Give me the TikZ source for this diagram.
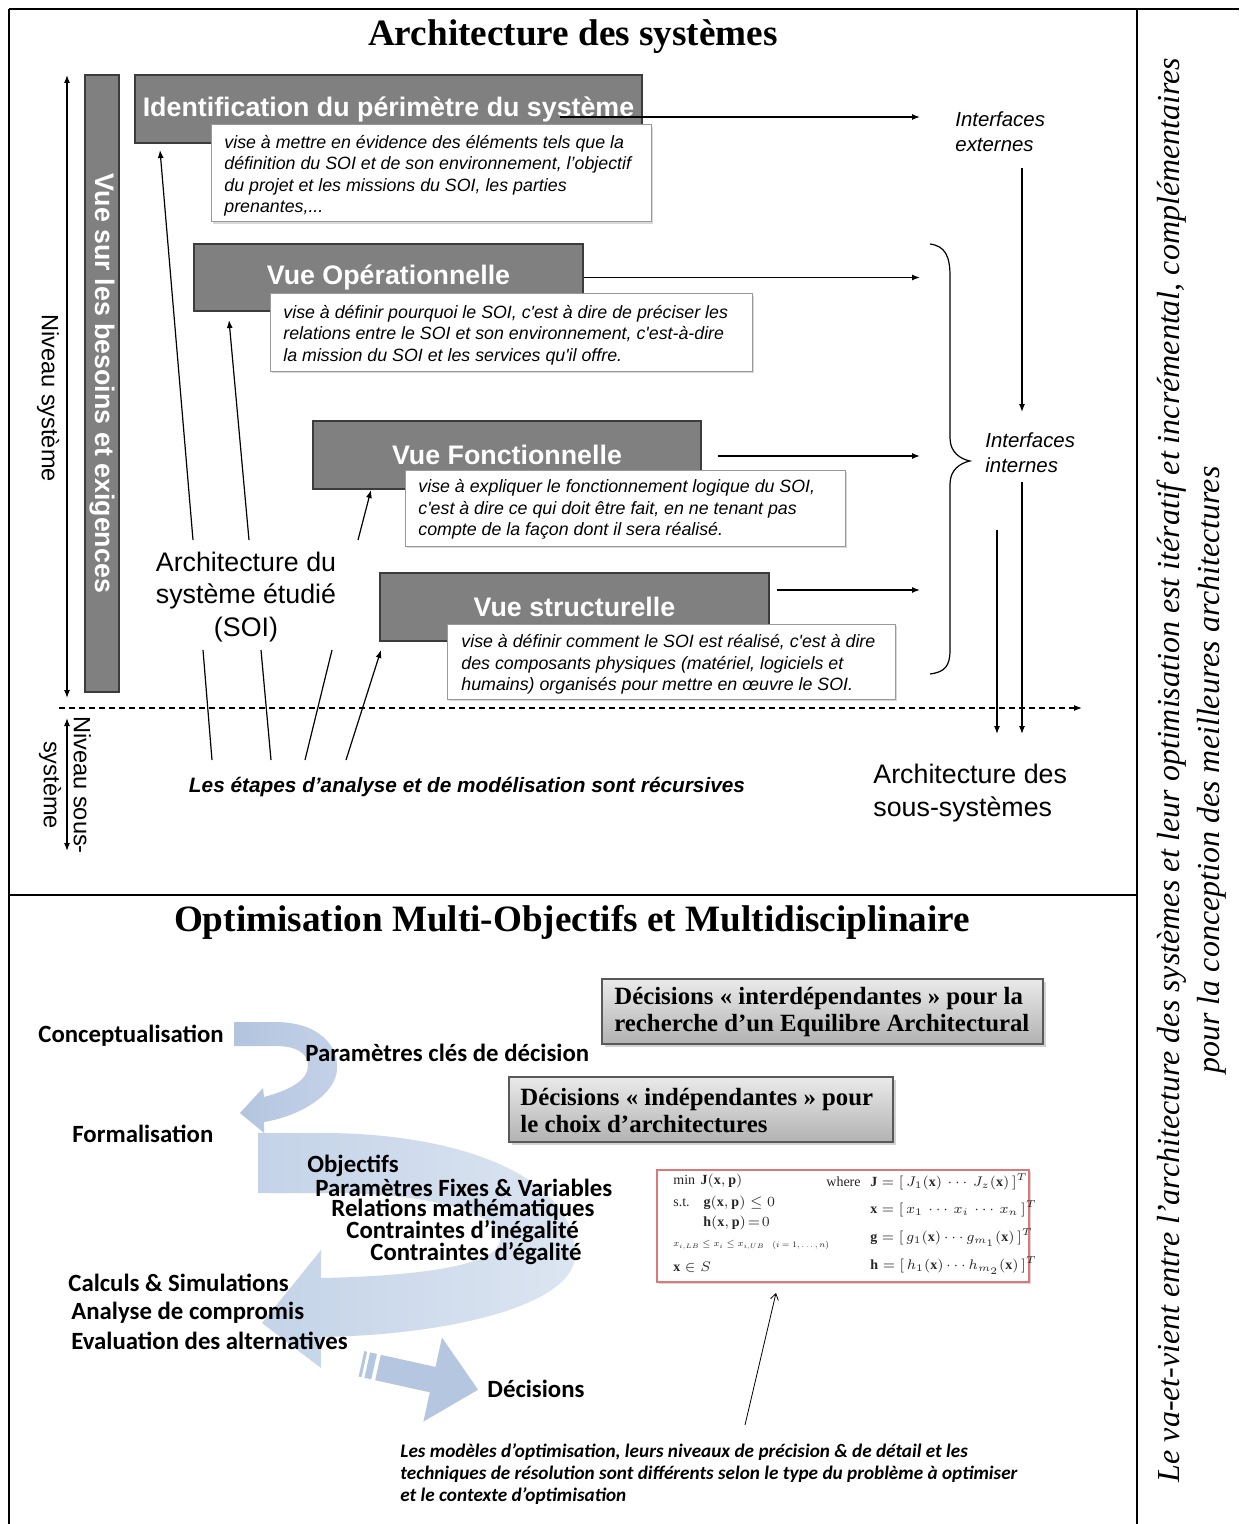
\documentclass[tikz,border=0pt]{standalone}
\usepackage{fontspec}
\setmainfont{Liberation Serif}
\newfontfamily\arialf{Liberation Sans}
\newfontfamily\calf{Carlito}
\usetikzlibrary{arrows.meta,shadows}

\definecolor{boxgray}{RGB}{128,128,128}
\definecolor{boxedge}{RGB}{60,60,60}
\definecolor{blueA}{RGB}{178,196,222}
\definecolor{blueA2}{RGB}{196,210,232}
\definecolor{blueB}{RGB}{196,211,232}
\definecolor{blueC}{RGB}{220,229,241}
\definecolor{blueD}{RGB}{180,198,224}
\definecolor{mathred}{RGB}{222,120,120}
\definecolor{decTop}{RGB}{234,234,234}
\definecolor{decBot}{RGB}{178,178,178}

\newcommand\myTitle{\fontsize{18.6}{22}\selectfont\bfseries}
\newcommand\myBox{\arialf\bfseries\fontsize{13.4}{16}\selectfont}
\newcommand\myDesc{\arialf\itshape\fontsize{8.9}{10.75}\selectfont}
\newcommand\myInt{\arialf\itshape\fontsize{10.2}{12.5}\selectfont}
\newcommand\mySoi{\arialf\fontsize{13.4}{16.3}\selectfont}
\newcommand\myNiv{\arialf\fontsize{11.8}{15}\selectfont}
\newcommand\myEtapes{\arialf\bfseries\itshape\fontsize{10.4}{12}\selectfont}
\newcommand\mySide{\itshape\fontsize{16}{20}\selectfont}
\newcommand\myCal{\calf\bfseries\fontsize{12.4}{14}\selectfont}
\newcommand\myDec{\bfseries\fontsize{12.4}{13.5}\selectfont}
\newcommand\myNote{\calf\bfseries\itshape\fontsize{9.6}{11}\selectfont}
\newcommand\myMath{\fontsize{7}{8.5}\selectfont}

\tikzset{
  frame/.style={line width=1pt},
  graybox/.style={draw=boxedge, line width=0.6pt, fill=boxgray, inner sep=0pt, text=white, font=\myBox},
  descbox/.style={draw=black!40, fill=white, line width=0.5pt, inner sep=0pt,
     drop shadow={shadow xshift=0.8pt, shadow yshift=-0.8pt, opacity=0.3}},
  desctext/.style={font=\myDesc, align=left, inner sep=0pt, anchor=west},
  conn/.style={line width=0.6pt, -{Latex[length=4pt,width=3pt]}},
  dconn/.style={line width=0.6pt, {Latex[length=4pt,width=3pt]}-{Latex[length=4pt,width=3pt]}},
  plainline/.style={line width=0.6pt},
  lab/.style={font=\myCal, anchor=west, inner sep=0pt},
  decbox/.style={draw=black!65, line width=0.6pt, top color=decTop, bottom color=decBot, inner sep=0pt,
     drop shadow={shadow xshift=1.5pt, shadow yshift=-1.5pt, opacity=0.35}},
  dectext/.style={font=\myDec, align=left, anchor=west, inner sep=0pt},
  mt/.style={font=\myMath, anchor=west, inner sep=0pt, text=black!85},
}

\begin{document}
\begin{tikzpicture}[x=0.5pt,y=-0.5pt]
\useasboundingbox (0,0) rectangle (1239,1524);
\fill[white] (0,0) rectangle (1239,1524);

% ---------- frame ----------
\draw[frame] (9,9) -- (1239,9);
\draw[frame] (9,9) -- (9,1524);
\draw[frame] (1137,9) -- (1137,1524);
\draw[frame] (9,895) -- (1137,895);

% ---------- titles ----------
\node[font=\myTitle] (t1) at (573,37) {Architecture des systèmes};
\node[font=\myTitle] (t2) at (572,922) {Optimisation Multi-Objectifs et Multidisciplinaire};

% ---------- side text ----------
\node[font=\mySide, rotate=90, align=center] (side) at (1192,770)
  {Le va-et-vient entre l’architecture des systèmes et leur optimisation est itératif et incrémental, complémentaires\\
   pour la conception des meilleures architectures};

% ---------- level arrows ----------
\coordinate (la1) at (67,75); \coordinate (la2) at (67,698);
\draw[dconn] (la1) -- (la2);
\coordinate (lb1) at (67,718); \coordinate (lb2) at (67,851);
\draw[dconn] (lb1) -- (lb2);
\node[font=\myNiv, rotate=-90] (niv) at (48,398) {Niveau système};
\node[font=\myNiv, rotate=-90, align=center] (nivs) at (65,785) {Niveau sous-\\système};

\node[graybox, rotate=-90, minimum width=308.5pt, minimum height=17pt] (bar) at (102,383.5) {Vue sur les besoins et exigences};

% ---------- gray boxes ----------
\node[graybox, minimum width=253.5pt, minimum height=34pt] (b1) at (388.5,109) {Identification du périmètre du système};
\node[graybox, minimum width=194.5pt, minimum height=33.5pt] (b2) at (388.5,277.5) {Vue Opérationnelle};
\node[graybox, minimum width=194pt, minimum height=34pt] (b3) at (507,455) {Vue Fonctionnelle};
\node[graybox, minimum width=194.5pt, minimum height=34pt] (b4) at (574.5,607) {Vue structurelle};

% ---------- description boxes ----------
\node[descbox, minimum width=220pt, minimum height=48.5pt] (d1) at (431,173.5) {};
\node[desctext] (d1t) at (224,176) {vise à mettre en évidence des éléments tels que la\\définition du SOI et de son environnement, l’objectif\\du projet et les missions du SOI, les parties\\prenantes,...};
\node[descbox, minimum width=241pt, minimum height=38.5pt] (d2) at (511,332.5) {};
\node[desctext] (d2t) at (283,335) {vise à définir pourquoi le SOI, c'est à dire de préciser les\\relations entre le SOI et son environnement, c'est-à-dire\\la mission du SOI et les services qu'il offre.};
\node[descbox, minimum width=220pt, minimum height=38pt] (d3) at (625,508) {};
\node[desctext] (d3t) at (418,509.5) {vise à expliquer le fonctionnement logique du SOI,\\c'est à dire ce qui doit être fait, en ne tenant pas\\compte de la façon dont il sera réalisé.};
\node[descbox, minimum width=224pt, minimum height=37.5pt] (d4) at (671,661.5) {};
\node[desctext] (d4t) at (461,664.5) {vise à définir comment le SOI est réalisé, c'est à dire\\des composants physiques (matériel, logiciels et\\humains) organisés pour mettre en œuvre le SOI.};

% ---------- interfaces ----------
\node[font=\myInt, align=left, anchor=west, inner sep=0pt] (iext) at (955,132) {Interfaces\\externes};
\node[font=\myInt, align=left, anchor=west, inner sep=0pt] (iint) at (985,453) {Interfaces\\internes};

\coordinate (h1s) at (560,117); \coordinate (h1e) at (920,117);
\draw[conn] (h1s) -- (h1e);
\coordinate (h2e) at (920,277.5);
\draw[conn] (b2.east) -- (h2e);
\coordinate (h3s) at (718,456); \coordinate (h3e) at (920,456);
\draw[conn] (h3s) -- (h3e);
\coordinate (h4s) at (777,590); \coordinate (h4e) at (920,590);
\draw[conn] (h4s) -- (h4e);

% brace
\draw[plainline] (930,244) .. controls (945,246) and (950,256) .. (950,276) -- (950,438)
  .. controls (950,452) and (960,459) .. (970,461)
  .. controls (960,463) and (950,470) .. (950,484) -- (950,650)
  .. controls (950,666) and (945,672) .. (930,674);

\coordinate (v1s) at (1022,168); \coordinate (v1e) at (1022,412);
\draw[conn] (v1s) -- (v1e);
\coordinate (v2s) at (997,530); \coordinate (v2e) at (997,734);
\draw[conn] (v2s) -- (v2e);
\coordinate (v3s) at (1022,482); \coordinate (v3e) at (1022,734);
\draw[conn] (v3s) -- (v3e);

% dashed level line
\coordinate (ds) at (59,708); \coordinate (de) at (1082,708);
\draw[conn, dash pattern=on 3pt off 2pt] (ds) -- (de);

\node[font=\mySoi, align=left, anchor=west, inner sep=0pt] (ssys) at (873,793) {Architecture des\\sous-systèmes};

% ---------- SOI ----------
\node[font=\mySoi, align=center, inner sep=0pt] (soi) at (246,597) {Architecture du\\système étudié\\(SOI)};
\coordinate (a1s) at (193,540); \coordinate (a1e) at (160,150);
\coordinate (a2s) at (249,540); \coordinate (a2e) at (229,320);
\coordinate (a3s) at (358,540); \coordinate (a3e) at (371,490);
\draw[conn] (a1s) -- (a1e);
\draw[conn] (a2s) -- (a2e);
\draw[conn] (a3s) -- (a3e);

\node[font=\myEtapes, inner sep=0pt] (etapes) at (467,787) {Les étapes d’analyse et de modélisation sont récursives};
\coordinate (c1s) at (212,760); \coordinate (c1e) at (203,650);
\coordinate (c2s) at (271,760); \coordinate (c2e) at (261,650);
\coordinate (c3s) at (305,760); \coordinate (c3e) at (332,650);
\coordinate (c4s) at (346,760); \coordinate (c4e) at (381,650);
\draw[plainline] (c1s) -- (c1e);
\draw[plainline] (c2s) -- (c2e);
\draw[plainline] (c3s) -- (c3e);
\draw[conn] (c4s) -- (c4e);

% ---------- bottom: blue arrows ----------
\shade[left color=blueA, right color=blueA2]
  (234,1022) -- (275,1022) .. controls (318,1022) and (339,1045) .. (337,1070)
  .. controls (335,1095) and (300,1116) .. (264,1122) -- (264,1133) -- (240,1113) -- (263,1088)
  -- (264,1097) .. controls (290,1090) and (308,1080) .. (308,1066)
  .. controls (308,1052) and (295,1046) .. (275,1046) -- (234,1046) -- cycle;

\shade[left color=blueB, right color=blueC]
  (258,1133) -- (330,1133) .. controls (470,1135) and (575,1180) .. (575,1255)
  .. controls (575,1305) and (450,1335) .. (321,1337) -- (321,1368) -- (262,1323) -- (321,1250)
  -- (321,1278) .. controls (420,1276) and (500,1265) .. (500,1240)
  .. controls (500,1210) and (420,1193) .. (330,1193) -- (258,1193) -- cycle;

\begin{scope}[shift={(378,1367.5)}, rotate=-12.5]
  \fill[blueD] (0,-13) -- (56,-13) -- (56,-43) -- (102.5,0) -- (56,43) -- (56,13) -- (0,13) -- cycle;
  \fill[blueD] (-17,-13) rectangle (-14,13);
  \fill[blueD] (-11,-13) rectangle (-4,13);
\end{scope}

% ---------- bottom labels ----------
\node[lab] (conc) at (38,1036) {Conceptualisation};
\node[lab] (pcd) at (305,1053) {Paramètres clés de décision};
\node[lab] (form) at (72,1134) {Formalisation};
\node[lab] (obj) at (307,1166) {Objectifs};
\node[lab] (pfv) at (315,1188) {Paramètres Fixes \& Variables};
\node[lab] (rm) at (331,1210) {Relations mathématiques};
\node[lab] (ci) at (346,1232) {Contraintes d’inégalité};
\node[lab] (ce) at (370,1254) {Contraintes d’égalité};
\node[lab] (cs) at (68,1283) {Calculs \& Simulations};
\node[lab] (ac) at (71,1313) {Analyse de compromis};
\node[lab] (ea) at (71,1341) {Evaluation des alternatives};
\node[lab] (dec) at (487,1389) {Décisions};

% ---------- decision boxes ----------
\node[decbox, minimum width=220.5pt, minimum height=32.5pt] (db1) at (822.5,1011.5) {};
\node[dectext] (db1t) at (614,1012.5) {Décisions « interdépendantes » pour la\\recherche d’un Equilibre Architectural};
\node[decbox, minimum width=192pt, minimum height=32.5pt] (db2) at (701,1109.5) {};
\node[dectext] (db2t) at (520,1110.5) {Décisions « indépendantes » pour\\le choix d’architectures};

% ---------- math box ----------
\node[draw=mathred, line width=0.7pt, fill=white, minimum width=186pt, minimum height=56pt, inner sep=0pt,
      drop shadow={shadow xshift=1pt, shadow yshift=-1pt, opacity=0.3}] (mb) at (843,1226) {};
\node[mt] (m1) at (673,1181) {$\min\,\mathbf{J}(\mathbf{x},\mathbf{p})$};
\node[mt] (m2) at (673,1203) {s.t.\quad $\mathbf{g}(\mathbf{x},\mathbf{p})\le 0$};
\node[mt] (m3) at (703,1223) {$\mathbf{h}(\mathbf{x},\mathbf{p})\!=\!0$};
\node[mt, scale=0.65] (m4) at (673,1245) {$x_{i,LB}\le x_i\le x_{i,UB}$};
\node[mt, scale=0.6] (m4b) at (772,1245) {$(i=1,\dots,n)$};
\node[mt] (m5) at (673,1267) {$\mathbf{x}\in S$};
\node[mt] (m6) at (826,1182) {where};
\node[mt] (m7) at (870,1182) {$\mathbf{J}=[\,J_1(\mathbf{x})\,\cdots\,J_z(\mathbf{x})\,]^T$};
\node[mt] (m8) at (870,1209) {$\mathbf{x}=[\,x_1\,\cdots\,x_i\,\cdots\,x_n\,]^T$};
\node[mt] (m9) at (870,1238) {$\mathbf{g}=[\,g_1(\mathbf{x})\cdots g_{m_1}(\mathbf{x})\,]^T$};
\node[mt] (m10) at (870,1266) {$\mathbf{h}=[\,h_1(\mathbf{x})\cdots h_{m_2}(\mathbf{x})\,]^T$};

\coordinate (fa1) at (745,1425); \coordinate (fa2) at (776,1293);
\draw[line width=0.4pt, -{Straight Barb[length=3pt,width=4pt]}] (fa1) -- (fa2);

\node[font=\myNote, align=left, anchor=west, inner sep=0pt] (note) at (400,1474)
  {Les modèles d’optimisation, leurs niveaux de précision \& de détail et les\\
   techniques de résolution sont différents selon le type du problème à optimiser\\
   et le contexte d’optimisation};

\end{tikzpicture}
\end{document}
